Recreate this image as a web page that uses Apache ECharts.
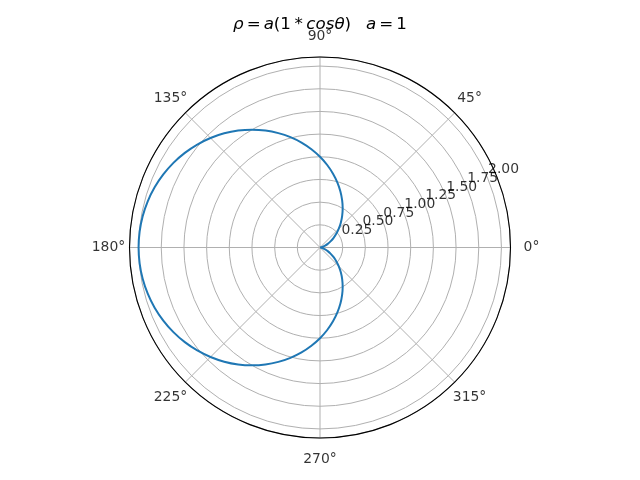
<!DOCTYPE html>
<html><head><meta charset="utf-8">
<script src="https://cdn.jsdelivr.net/npm/echarts@6/dist/echarts.min.js"></script>
<style>html,body{margin:0;padding:0;background:#fff}#c{width:640px;height:480px}</style>
</head><body><div id="c"></div>
<script>
// angle (degrees) and radius values read from the plotted cardioid
const thetaDeg = [0,5,10,15,20,25,30,35,40,45,50,55,60,65,70,75,80,85,90,95,100,105,110,115,120,125,130,135,140,145,150,155,160,165,170,175,180,
  185,190,195,200,205,210,215,220,225,230,235,240,245,250,255,260,265,270,275,280,285,290,295,300,305,310,315,320,325,330,335,340,345,350,355,360];
const rho = [0,0.004,0.015,0.034,0.060,0.094,0.134,0.181,0.234,0.293,0.357,0.426,0.500,0.577,0.658,0.741,0.826,0.913,1.000,1.087,1.174,1.259,1.342,1.423,1.500,1.574,1.643,1.707,1.766,1.819,1.866,1.906,1.940,1.966,1.985,1.996,2.000,
  1.996,1.985,1.966,1.940,1.906,1.866,1.819,1.766,1.707,1.643,1.574,1.500,1.423,1.342,1.259,1.174,1.087,1.000,0.913,0.826,0.741,0.658,0.577,0.500,0.426,0.357,0.293,0.234,0.181,0.134,0.094,0.060,0.034,0.015,0.004,0];
const radialTicks = [0.25,0.5,0.75,1.0,1.25,1.5,1.75,2.0];
const radialTickLabels = ['0.25','0.50','0.75','1.00','1.25','1.50','1.75','2.00'];
const angleTicks = [0,45,90,135,180,225,270,315];
const angleTickLabels = ['0°','45°','90°','135°','180°','225°','270°','315°'];
const radiusMax = 2.1;

const chart = echarts.init(document.getElementById('c'), null, {renderer:'canvas'});
const FONT = 'DejaVu Sans';
const CENTER = [320, 247.5];
const R = 190.5;
const GRID = '#b0b0b0';
const TFS = 16.7;
const base = {fontFamily: FONT, fontWeight: 'normal', fontSize: TFS, color: '#000'};

const option = {
  animation: false,
  backgroundColor: '#ffffff',
  title: {
    left: 'center', top: 11,
    text: '{i|ρ}{op|=}{i|a}{n|(1}{op2|*}{i|cosθ}{gap|)}{i|a}{op|=}{n|1}',
    textStyle: {
      fontWeight: 'normal',
      rich: {
        i: Object.assign({}, base, {fontStyle: 'italic'}),
        n: base,
        op: Object.assign({}, base, {padding: [0, 3, 0, 3]}),
        op2: Object.assign({}, base, {padding: [0, 3.5, 0, 3.5]}),
        gap: Object.assign({}, base, {padding: [0, 15, 0, 0]})
      }
    }
  },
  polar: [
    {center: CENTER, radius: R},
    {center: CENTER, radius: R + 21}
  ],
  angleAxis: [
    {
      polarIndex: 0, type: 'value', min: 0, max: 360, interval: 45,
      startAngle: 0, clockwise: false,
      axisLine: {show: true, lineStyle: {color: '#000', width: 1.1}},
      axisTick: {show: false},
      axisLabel: {show: false},
      splitLine: {show: true, lineStyle: {color: GRID, width: 1}},
      z: 1
    },
    {polarIndex: 1, type: 'value', min: 0, max: 360, startAngle: 0, clockwise: false, show: false}
  ],
  radiusAxis: [
    {
      polarIndex: 0, type: 'value', min: 0, max: radiusMax, interval: 0.25,
      axisLine: {show: false}, axisTick: {show: false}, axisLabel: {show: false},
      splitLine: {show: true, lineStyle: {color: GRID, width: 1}}
    },
    {polarIndex: 1, type: 'value', min: 0, max: 1, show: false}
  ],
  series: [
    {
      type: 'line', coordinateSystem: 'polar', polarIndex: 0,
      data: thetaDeg.map((t, i) => [rho[i], t]),
      showSymbol: false, smooth: 0.2,
      lineStyle: {color: '#1f77b4', width: 2},
      z: 5
    },
    {
      type: 'scatter', coordinateSystem: 'polar', polarIndex: 0,
      data: radialTicks.map((r, i) => ({value: [r, 22.5], name: radialTickLabels[i]})),
      symbolSize: 1, itemStyle: {color: 'transparent'}, silent: true,
      label: {show: true, position: [1, -1], align: 'left', verticalAlign: 'bottom',
        formatter: p => p.name, fontFamily: FONT, fontSize: 13.9, color: '#000'},
      z: 4
    },
    {
      type: 'scatter', coordinateSystem: 'polar', polarIndex: 1,
      data: angleTicks.map((a, i) => ({value: [1, a], name: angleTickLabels[i]})),
      symbolSize: 1, itemStyle: {color: 'transparent'}, silent: true,
      label: {show: true, position: 'inside', align: 'center', verticalAlign: 'middle',
        formatter: p => p.name, fontFamily: FONT, fontSize: 13.9, color: '#000'},
      z: 4
    }
  ]
};
chart.setOption(option);
</script></body></html>
